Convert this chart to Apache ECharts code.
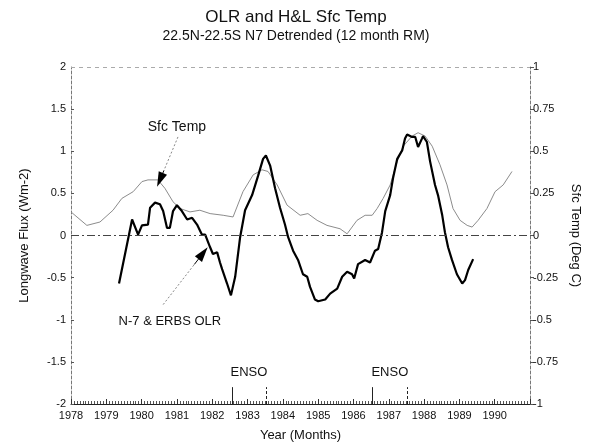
<!DOCTYPE html>
<html>
<head>
<meta charset="utf-8">
<title>OLR and H&amp;L Sfc Temp</title>
<script src="https://cdn.jsdelivr.net/npm/echarts@6/dist/echarts.min.js"></script>
<style>
  html, body { margin: 0; padding: 0; background: #fff; }
  #chart { width: 592px; height: 447px; }
</style>
</head>
<body>
<div id="chart"></div>
<script>
// N-7 & ERBS outgoing longwave flux anomaly (Wm-2), 12 month running mean
const olrYears = [1979.36, 1979.73, 1979.78, 1979.90, 1980.01, 1980.18, 1980.24, 1980.38, 1980.52, 1980.61,
  1980.72, 1980.80, 1980.89, 1981.00, 1981.14, 1981.29, 1981.43, 1981.57, 1981.71, 1981.80,
  1981.94, 1982.02, 1982.14, 1982.22, 1982.28, 1982.42, 1982.53, 1982.65, 1982.79, 1982.93,
  1983.13, 1983.30, 1983.44, 1983.52, 1983.64, 1983.78, 1983.92, 1984.06, 1984.15, 1984.29,
  1984.43, 1984.57, 1984.69, 1984.77, 1984.91, 1985.00, 1985.20, 1985.34, 1985.54, 1985.68,
  1985.82, 1985.96, 1986.02, 1986.13, 1986.33, 1986.47, 1986.61, 1986.70, 1986.81, 1986.90,
  1987.04, 1987.12, 1987.24, 1987.38, 1987.46, 1987.52, 1987.66, 1987.75, 1987.83, 1987.94,
  1987.97, 1988.08, 1988.17, 1988.31, 1988.40, 1988.51, 1988.59, 1988.68, 1988.79, 1988.93,
  1989.08, 1989.16, 1989.25, 1989.39];
const olrFlux = [-0.57, 0.19, 0.21, 0.01, 0.12, 0.13, 0.33, 0.39, 0.37, 0.29,
  0.09, 0.09, 0.29, 0.36, 0.29, 0.19, 0.21, 0.13, 0.01, 0.01,
  -0.14, -0.22, -0.20, -0.32, -0.40, -0.57, -0.71, -0.49, -0.02, 0.30,
  0.48, 0.71, 0.91, 0.95, 0.83, 0.56, 0.33, 0.13, -0.02, -0.18,
  -0.29, -0.46, -0.49, -0.61, -0.76, -0.78, -0.76, -0.69, -0.63, -0.49,
  -0.43, -0.46, -0.51, -0.34, -0.29, -0.32, -0.18, -0.16, 0.04, 0.29,
  0.48, 0.68, 0.91, 1.01, 1.15, 1.20, 1.17, 1.17, 1.05, 1.15,
  1.18, 1.11, 0.88, 0.60, 0.47, 0.25, 0.04, -0.14, -0.29, -0.46,
  -0.57, -0.53, -0.41, -0.28];

// H&L surface temperature anomaly (Deg C)
const sfcYears = [1978.00, 1978.45, 1978.82, 1979.19, 1979.44, 1979.76, 1980.01, 1980.18, 1980.46, 1980.66,
  1980.89, 1981.09, 1981.37, 1981.65, 1981.94, 1982.31, 1982.59, 1982.87, 1983.16, 1983.41,
  1983.58, 1983.84, 1984.12, 1984.49, 1984.71, 1984.97, 1985.25, 1985.62, 1985.82, 1985.96,
  1986.10, 1986.33, 1986.53, 1986.67, 1986.84, 1987.04, 1987.24, 1987.41, 1987.66, 1987.83,
  1988.03, 1988.23, 1988.45, 1988.65, 1988.82, 1989.02, 1989.22, 1989.36, 1989.53, 1989.78,
  1990.01, 1990.24, 1990.49];
const sfcTemp = [0.14, 0.06, 0.08, 0.15, 0.22, 0.26, 0.32, 0.33, 0.33, 0.28,
  0.20, 0.16, 0.14, 0.15, 0.13, 0.12, 0.11, 0.26, 0.36, 0.39,
  0.38, 0.30, 0.18, 0.12, 0.13, 0.09, 0.06, 0.04, 0.01, 0.05,
  0.09, 0.12, 0.12, 0.16, 0.22, 0.30, 0.44, 0.53, 0.59, 0.61,
  0.59, 0.53, 0.42, 0.30, 0.16, 0.09, 0.06, 0.05, 0.09, 0.16,
  0.26, 0.30, 0.38];

// ENSO event markers: onset (solid) and end (dashed)
const ensoOnset = [1982.56, 1986.53];
const ensoEnd = [1983.52, 1987.52];

const FONT = 'Liberation Sans, Arial, Helvetica, sans-serif';
const zip = (xs, ys) => xs.map((x, i) => [x, ys[i]]);

const ensoLines = [];
ensoOnset.forEach(x => ensoLines.push([
  { coord: [x, -2], lineStyle: { type: 'solid', color: '#222' } }, { coord: [x, -1.8] }
]));
ensoEnd.forEach(x => ensoLines.push([
  { coord: [x, -2], lineStyle: { type: [3, 2], color: '#222' } }, { coord: [x, -1.8] }
]));

// text placed at a data coordinate
const textMark = (name, coord, size) => ({
  name, coord, symbol: 'circle', symbolSize: 1,
  itemStyle: { color: 'rgba(0,0,0,0)' },
  label: { show: true, position: 'inside', formatter: name, color: '#111',
           fontFamily: FONT, fontSize: size }
});

// dotted pointer line with a solid black head at the end
const pointer = (from, to) => {
  const f = 0.78;
  const mid = [from[0] + (to[0] - from[0]) * f, from[1] + (to[1] - from[1]) * f];
  return [
    [{ coord: from, symbol: 'none', lineStyle: { color: '#888', width: 1, type: [2, 2] } },
     { coord: mid, symbol: 'none' }],
    [{ coord: mid, symbol: 'none', lineStyle: { color: '#000', width: 1, type: 'solid' } },
     { coord: to, symbol: 'triangle', symbolSize: [9, 15] }]
  ];
};

const chart = echarts.init(document.getElementById('chart'), null, { renderer: 'canvas' });
chart.setOption({
  animation: false,
  backgroundColor: '#fff',
  textStyle: { fontFamily: FONT },
  title: {
    text: 'OLR and H&L Sfc Temp',
    subtext: '22.5N-22.5S N7 Detrended (12 month RM)',
    left: 'center', top: 4, itemGap: 3,
    textStyle: { fontFamily: FONT, fontSize: 17, fontWeight: 'normal', color: '#111' },
    subtextStyle: { fontFamily: FONT, fontSize: 14, color: '#111' }
  },
  grid: { left: 71, right: 62, top: 67, bottom: 38 },
  xAxis: {
    type: 'value', min: 1978, max: 1991, interval: 1,
    axisLine: { show: true, onZero: false, lineStyle: { color: '#222', width: 1 } },
    axisTick: { show: true, inside: true, length: 5, lineStyle: { color: '#333' } },
    minorTick: { show: true, splitNumber: 12, length: 3, lineStyle: { color: '#555' } },
    axisLabel: { formatter: v => (v === 1991 ? '' : String(v)), fontSize: 11, color: '#111', margin: 6 },
    splitLine: { show: false },
    name: 'Year (Months)', nameLocation: 'middle', nameGap: 25,
    nameTextStyle: { fontSize: 13, color: '#111' }
  },
  yAxis: [
    {
      type: 'value', min: -2, max: 2, interval: 0.5, position: 'left',
      axisLine: { show: true, lineStyle: { color: '#777', type: [3, 2] } },
      axisTick: { show: true, inside: true, length: 3, lineStyle: { color: '#555' } },
      axisLabel: { fontSize: 11, color: '#111', margin: 5 },
      splitLine: { show: false },
      name: 'Longwave Flux (Wm-2)', nameLocation: 'middle', nameGap: 40, nameRotate: 90,
      nameTextStyle: { fontSize: 13, color: '#111' }
    },
    {
      type: 'value', min: -1, max: 1, interval: 0.25, position: 'right',
      axisLine: { show: true, lineStyle: { color: '#777', type: [3, 2] } },
      axisTick: { show: true, inside: false, length: 4, lineStyle: { color: '#555' } },
      axisLabel: { fontSize: 11, color: '#111', margin: 3 },
      splitLine: { show: false },
      name: 'Sfc Temp (Deg C)', nameLocation: 'middle', nameGap: 36, nameRotate: -90,
      nameTextStyle: { fontSize: 13, color: '#111' }
    }
  ],
  series: [
    {
      name: 'Sfc Temp', type: 'line', yAxisIndex: 1,
      data: zip(sfcYears, sfcTemp),
      showSymbol: false, smooth: false,
      lineStyle: { color: '#8c8c8c', width: 1 },
      markLine: {
        silent: true, symbol: 'none', label: { show: false },
        data: pointer([1981.03, 0.585], [1980.52, 0.33])
      },
      markPoint: { silent: true, data: [textMark('Sfc Temp', [1981.0, 0.645], 14)] }
    },
    {
      name: 'N-7 & ERBS OLR', type: 'line', yAxisIndex: 0,
      data: zip(olrYears, olrFlux),
      showSymbol: false, smooth: false,
      lineStyle: { color: '#000', width: 2.2 },
      markLine: {
        silent: true, symbol: 'none',
        label: { show: false },
        lineStyle: { color: '#444', width: 1 },
        data: [
          [{ coord: [1978, 0], lineStyle: { type: [8, 3, 2, 3], color: '#444' } }, { coord: [1991, 0] }],
          [{ coord: [1978, 2], lineStyle: { type: [4, 4], color: '#aaa' } }, { coord: [1991, 2] }],
          ...ensoLines,
          ...pointer([1980.61, -0.82], [1981.74, -0.21])
        ]
      },
      markPoint: {
        silent: true,
        data: [
          textMark('N-7 & ERBS OLR', [1980.8, -1.02], 13),
          textMark('ENSO', [1983.04, -1.63], 13),
          textMark('ENSO', [1987.03, -1.63], 13)
        ]
      }
    }
  ]
});
</script>
</body>
</html>
